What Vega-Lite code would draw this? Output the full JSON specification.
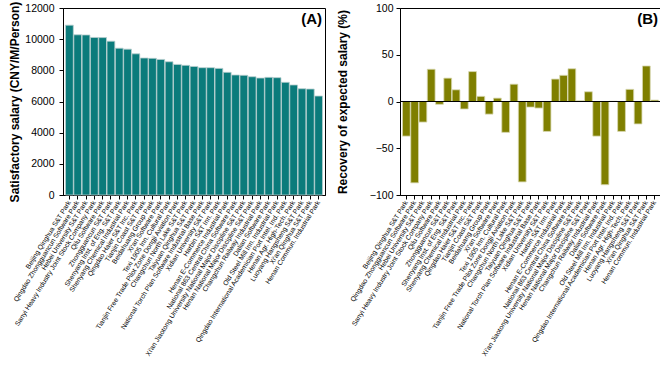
{
  "$schema": "https://vega.github.io/schema/vega-lite/v6.json",
  "background": "white",
  "padding": {"left": 8, "top": 0, "right": 3, "bottom": 0},
  "spacing": 9,
  "config": {
    "font": "Liberation Sans",
    "view": {"stroke": "black", "strokeWidth": 1},
    "axis": {
      "domainColor": "black", "tickColor": "black", "labelColor": "black", "titleColor": "black",
      "grid": false, "labelFont": "Liberation Sans", "titleFont": "Liberation Sans"
    }
  },
  "datasets": {
    "parks": [
      {"park": "Beijing Qinghua S&T Park", "salary": 10900, "recovery": -37},
      {"park": "Qingdao Zhongguancun Software Park", "salary": 10280, "recovery": -87},
      {"park": "Hebei University S&T Park", "salary": 10270, "recovery": -22},
      {"park": "Sanyi Heavy Industry Joint Stock Company Park", "salary": 10110, "recovery": 34.5},
      {"park": "Qilu Software Park", "salary": 10100, "recovery": -3},
      {"park": "Zhongguancun S&T Park", "salary": 9870, "recovery": 25},
      {"park": "Shenyang Inst. of Eng. S&T Park", "salary": 9420, "recovery": 12.5},
      {"park": "Shenyang Chemical Industrial Park", "salary": 9360, "recovery": -8},
      {"park": "Qingdao Haier S&T Inc. Park", "salary": 9060, "recovery": 32},
      {"park": "Tianjin Coast S&T Park", "salary": 8790, "recovery": 5.5},
      {"park": "Beidahuang Group Park", "salary": 8770, "recovery": -13.5},
      {"park": "Xi'an Software Park", "salary": 8700, "recovery": 3.6},
      {"park": "Texi 1905 Inn. Cultural Park", "salary": 8550, "recovery": -33},
      {"park": "Tianjin Free Trade Pilot Zone Dongji Aviation Park", "salary": 8380, "recovery": 18.5},
      {"park": "Changchun North Lake S&T Park", "salary": 8320, "recovery": -86},
      {"park": "Taiyuan Qinghua S&T Park", "salary": 8250, "recovery": -6},
      {"park": "National Torch Plan Software Industrial Base Park", "salary": 8170, "recovery": -7},
      {"park": "Xidian University S&T Park", "salary": 8170, "recovery": -32},
      {"park": "Harbin S&T Inn. Park", "salary": 8125, "recovery": 24},
      {"park": "Henan E-Commerce Industrial Park", "salary": 7870, "recovery": 28},
      {"park": "National 863 Central China Software Park", "salary": 7700, "recovery": 35},
      {"park": "Xi'an Jiaotong University National Major Discipline S&T Park", "salary": 7680, "recovery": 0.7},
      {"park": "Henan National Major Discipline S&T Park", "salary": 7590, "recovery": 10.4},
      {"park": "Changchun Railway Industrial Park", "salary": 7505, "recovery": -37},
      {"park": "Dalian Software Park", "salary": 7550, "recovery": -89},
      {"park": "Old Steel Mill Inn. Industrial Park", "salary": 7530, "recovery": 0.3},
      {"park": "Qingdao International Academician Port Intel. Ind. Park", "salary": 7230, "recovery": -32},
      {"park": "Henan Agr. High-Tech. Park", "salary": 7060, "recovery": 13},
      {"park": "Luoyang Hangsheng S&T Park", "salary": 6820, "recovery": -24},
      {"park": "Xi'an Qinghua S&T Park", "salary": 6800, "recovery": 38},
      {"park": "Henan Commun. Industrial Park", "salary": 6350, "recovery": 1.5}
    ]
  },
  "hconcat": [
    {
      "width": 262,
      "height": 187,
      "data": {"name": "parks"},
      "layer": [
        {
          "mark": {"type": "bar", "color": "#0b7b7b", "stroke": "#b9cfcf", "strokeWidth": 0.8},
          "encoding": {
            "x": {
              "field": "park", "type": "nominal", "sort": null,
              "scale": {"paddingInner": 0.06, "paddingOuter": 0.3},
              "axis": {"title": null, "labelAngle": -58, "labelAlign": "right", "labelBaseline": "middle",
                       "labelFontSize": 6.8, "labelPadding": 2, "tickSize": 4, "labelLimit": 300, "labelOverlap": false}
            },
            "y": {
              "field": "salary", "type": "quantitative",
              "scale": {"domain": [0, 12000], "nice": false},
              "axis": {"title": "Satisfactory salary (CNY/M/Person)", "values": [0, 2000, 4000, 6000, 8000, 10000, 12000],
                       "format": "d", "labelFontSize": 10.5, "titleFontSize": 12, "titleFontWeight": "bold",
                       "tickSize": 4, "labelPadding": 5, "titlePadding": 3}
            }
          }
        },
        {
          "data": {"values": [{"label": "(A)"}]},
          "mark": {"type": "text", "fontWeight": "bold", "fontSize": 15, "align": "right", "baseline": "top", "x": 259, "y": 4},
          "encoding": {"text": {"field": "label"}}
        }
      ]
    },
    {
      "width": 261,
      "height": 187,
      "data": {"name": "parks"},
      "layer": [
        {
          "mark": {"type": "bar", "color": "#7f7f00", "stroke": "#d8d8b0", "strokeWidth": 0.8},
          "encoding": {
            "x": {
              "field": "park", "type": "nominal", "sort": null,
              "scale": {"paddingInner": 0.06, "paddingOuter": 0.3},
              "axis": {"title": null, "labelAngle": -58, "labelAlign": "right", "labelBaseline": "middle",
                       "labelFontSize": 6.8, "labelPadding": 2, "tickSize": 4, "labelLimit": 300, "labelOverlap": false}
            },
            "y": {
              "field": "recovery", "type": "quantitative",
              "scale": {"domain": [-100, 100], "nice": false},
              "axis": {"title": "Recovery of expected salary (%)", "values": [-100, -50, 0, 50, 100],
                       "labelFontSize": 10.5, "titleFontSize": 12, "titleFontWeight": "bold",
                       "tickSize": 4, "labelPadding": 3, "titlePadding": 20}
            }
          }
        },
        {
          "data": {"values": [{"v": 0}]},
          "mark": {"type": "rule", "color": "black", "strokeWidth": 1},
          "encoding": {"y": {"field": "v", "type": "quantitative"}}
        },
        {
          "data": {"values": [{"label": "(B)"}]},
          "mark": {"type": "text", "fontWeight": "bold", "fontSize": 15, "align": "right", "baseline": "top", "x": 258, "y": 4},
          "encoding": {"text": {"field": "label"}}
        }
      ]
    }
  ]
}
